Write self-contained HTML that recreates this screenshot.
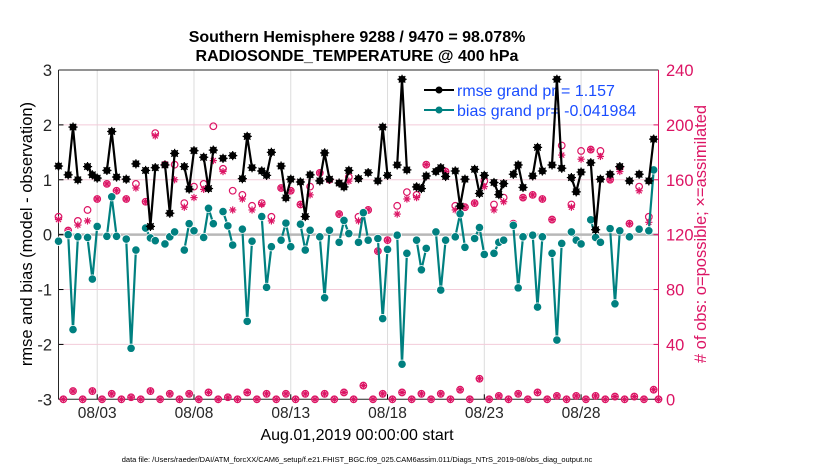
<!DOCTYPE html>
<html><head><meta charset="utf-8"><style>
html,body{margin:0;padding:0;background:#fff;}
svg{display:block;font-family:"Liberation Sans",Arial,sans-serif;}
</style></head><body>
<svg id="chart" width="830" height="470" viewBox="0 0 830 470" xmlns="http://www.w3.org/2000/svg">
<text x="357" y="42" text-anchor="middle" font-size="16" font-weight="bold">Southern Hemisphere 9288 / 9470 = 98.078%</text>
<text x="357" y="61" text-anchor="middle" font-size="16" font-weight="bold">RADIOSONDE_TEMPERATURE @ 400 hPa</text>
<g id="grid"></g>
<g id="axes"></g>
<g id="legend">
<line x1="424" y1="90" x2="454" y2="90" stroke="#000" stroke-width="2"/>
<circle cx="439" cy="90" r="3.5" fill="#000"/>
<text x="457" y="96" font-size="16" fill="#1a4dff">rmse grand pr = 1.157</text>
<line x1="424" y1="110" x2="454" y2="110" stroke="#008080" stroke-width="2"/>
<circle cx="439" cy="110" r="3.5" fill="#008080"/>
<text x="457" y="116" font-size="16" fill="#1a4dff">bias grand pr= -0.041984</text>
</g>
<g id="marks"></g>
<text transform="translate(32,234) rotate(-90)" text-anchor="middle" font-size="16.5">rmse and bias (model - observation)</text>
<text transform="translate(706,234) rotate(-90)" text-anchor="middle" font-size="16.5" fill="#dc1464"># of obs: o=possible; ×=assimilated</text>
<text x="357" y="440" text-anchor="middle" font-size="16">Aug.01,2019 00:00:00 start</text>
<text x="357" y="462" text-anchor="middle" font-size="7.5">data file: /Users/raeder/DAI/ATM_forcXX/CAM6_setup/f.e21.FHIST_BGC.f09_025.CAM6assim.011/Diags_NTrS_2019-08/obs_diag_output.nc</text>
</svg>
<script>
const rmseK=[0,2,3,4,6,7,8,10,11,12,14,16,18,19,20,22,23,24,26,27,28,30,31,32,34,36,38,39,40,42,43,44,46,47,48,50,51,52,54,55,56,58,59,60,62,64,66,67,68,70,71,72,74,75,76,78,79,80,82,83,84,86,87,88,90,91,92,94,95,96,98,99,100,102,103,104,106,107,108,110,111,112,114,116,118,120,122,123];
const rmseV=[1.25,1.09,1.96,1.0,1.24,1.09,1.03,1.17,1.88,1.05,1.01,1.29,1.17,0.15,1.22,1.27,0.39,1.48,1.24,0.83,1.53,1.41,0.84,1.54,1.39,1.44,1.02,1.79,1.22,1.16,1.08,1.50,1.25,0.67,1.01,0.96,0.33,1.09,0.98,1.49,1.01,0.94,0.87,1.17,1.02,1.13,0.98,1.96,1.08,1.27,2.83,1.18,0.87,0.84,1.07,1.15,1.22,1.06,1.16,0.52,1.01,1.19,0.75,1.08,0.95,0.73,0.93,1.10,1.27,0.86,1.07,1.59,1.16,1.27,2.83,1.21,1.04,0.78,1.14,1.31,0.09,1.01,1.10,1.24,0.98,1.10,0.98,1.74];
const biasK=[0,2,3,4,6,7,8,10,11,12,14,15,16,18,19,20,22,23,24,26,27,28,30,31,32,34,35,36,38,39,40,42,43,44,46,47,48,50,51,52,54,55,56,58,59,60,62,63,64,66,67,68,70,71,72,74,75,76,78,79,80,82,83,84,86,87,88,90,91,92,94,95,96,98,99,100,102,103,104,106,107,108,110,111,112,114,115,116,118,120,122,123];
const biasV=[-0.12,0.0,-1.73,-0.04,-0.05,-0.81,0.15,-0.03,0.69,-0.03,-0.08,-2.07,-0.28,0.12,-0.06,-0.11,-0.17,-0.04,0.05,-0.28,0.2,0.07,-0.05,0.48,0.2,0.42,0.16,-0.19,0.1,-1.58,-0.12,0.33,-0.96,-0.22,-0.1,0.21,-0.22,0.19,-0.28,0.08,-0.04,-1.15,0.08,-0.14,0.26,0.02,-0.14,0.40,-0.10,-0.07,-1.53,-0.27,-0.01,-2.36,-0.34,-0.10,-0.64,-0.25,0.05,-1.01,-0.10,-0.04,0.38,-0.23,-0.07,0.13,-0.36,-0.34,-0.14,-0.10,0.17,-0.97,-0.04,-0.01,-1.32,-0.04,-0.34,-1.92,-0.16,0.05,-0.10,-0.17,0.27,-0.05,-0.14,0.11,-1.26,0.07,-0.04,0.10,0.07,1.18];
const obsK=[0,2,4,6,8,10,12,14,16,18,20,22,24,26,28,30,32,34,36,38,40,42,44,46,48,50,52,54,56,58,60,62,64,66,68,70,72,74,76,78,80,82,84,86,88,90,92,94,96,98,100,102,104,106,108,110,112,114,116,118,120,122,
1,3,5,7,9,11,13,15,17,19,21,23,25,27,29,31,33,35,37,39,41,43,45,47,49,51,53,55,57,59,61,63,65,67,69,71,73,75,77,79,81,83,85,87,89,91,93,95,97,99,101,103,105,107,109,111,113,115,117,119,121,123,124];
const possibleV=[133,123,130,138,146,157,152,146,157,144,194,171,171,143,155,157,199,168,152,149,141,143,133,154,152,142,155,165,160,135,162,133,138,108,116,141,151,149,171,122,166,141,140,143,159,142,147,128,147,149,146,131,185,142,181,182,181,160,169,128,155,133,
0,6,0,6,0,4,0,1.5,0,6,0,4,0,4,0,5,0,1.5,0,5,0,4,0,4,0,4,0,4,0,5,0,10,0,4,0,5,0,4,0,4,0,7,0,15,0,2.5,0,4,0,5,0,2.5,0,2.5,0,2.5,0,2,0,2,0,7,0];
const assimV=[131,123,127,130,146,157,152,146,154,144,192,171,160,140,147,153,174,166,138,146,138,142,130,154,152,142,149,165,160,135,159,130,138,108,116,135,146,147,171,122,166,138,140,143,155,138,144,128,147,149,146,131,178,140,175,182,177,160,166,128,152,129,
0,6,0,6,0,4,0,1.5,0,6,0,4,0,4,0,5,0,1.5,0,5,0,4,0,4,0,4,0,4,0,5,0,10,0,4,0,5,0,4,0,4,0,7,0,15,0,2.5,0,4,0,5,0,2.5,0,2.5,0,2.5,0,2,0,2,0,7,0];
const leftTicks=[3,2,1,0,-1,-2,-3];
const rightTicks=[0,40,80,120,160,200,240];
const dateTicks=[2,7,12,17,22,27];
const dateLabels=["08/03","08/08","08/13","08/18","08/23","08/28"];

const X0=58.5,X1=658.5,Y0=70,Y1=399.3;
const xDay=d=>X0+d/31*(X1-X0);
const xK=k=>xDay(k/4);
const yL=v=>Y1-(v+3)/6*(Y1-Y0);
const yR=c=>Y1-c/240*(Y1-Y0);
const NS="http://www.w3.org/2000/svg";
function mk(tag,attrs,parent){const e=document.createElementNS(NS,tag);for(const a in attrs)e.setAttribute(a,attrs[a]);parent.appendChild(e);return e;}
const grid=document.getElementById('grid'),axes=document.getElementById('axes'),marks=document.getElementById('marks');
const RED="#dc1464",TEAL="#008080";

dateTicks.forEach((d,i)=>{
  const x=xDay(d);
  const g=mk('line',{x1:x,y1:Y0,x2:x,y2:Y1,stroke:"#dcdcdc","stroke-width":1},grid);
  
  
  mk('line',{x1:x,y1:Y1,x2:x,y2:Y1-5,stroke:"#000"},axes);
  const t=mk('text',{x:x,y:418,"text-anchor":"middle","font-size":15.5,fill:"#262626"},axes);
  t.textContent=dateLabels[i];
  
  
});
rightTicks.forEach(c=>{
  const y=yR(c);
  if(c>0&&c<240&&c!==120){
    const g=mk('line',{x1:X0,y1:y,x2:X1,y2:y,stroke:"#f3cbd9","stroke-width":1},grid);
    
    
  }
  mk('line',{x1:X1,y1:y,x2:X1-5,y2:y,stroke:RED},axes);
  const t=mk('text',{x:666,y:y+6,"font-size":16.5,fill:RED},axes);
  t.textContent=c;
  
  
});
leftTicks.forEach(v=>{
  const y=yL(v);
  mk('line',{x1:X0,y1:y,x2:X0+5,y2:y,stroke:"#000"},axes);
  const t=mk('text',{x:52,y:y+6,"text-anchor":"end","font-size":16.5,fill:"#262626"},axes);
  t.textContent=v;
  
  
});
mk('line',{x1:X0,y1:yL(0),x2:X1,y2:yL(0),stroke:"#b8b8b8","stroke-width":2.5},grid);
mk('line',{x1:X0,y1:Y0,x2:X1,y2:Y0,stroke:"#262626"},axes);
mk('line',{x1:X0,y1:Y1,x2:X1,y2:Y1,stroke:"#262626"},axes);
mk('line',{x1:X0,y1:Y0,x2:X0,y2:Y1,stroke:"#262626"},axes);
mk('line',{x1:X1,y1:Y0,x2:X1,y2:Y1,stroke:RED},axes);

function star(x,y,r,color,parent){
  const g=mk('g',{stroke:color,"stroke-width":1.2},parent);
  for(let a=0;a<180;a+=45){const rad=a*Math.PI/180;mk('line',{x1:x-r*Math.cos(rad),y1:y-r*Math.sin(rad),x2:x+r*Math.cos(rad),y2:y+r*Math.sin(rad)},g);}
  return g;
}
obsK.forEach((k,i)=>{
  const x=xK(k);
  const c=mk('circle',{cx:x,cy:yR(possibleV[i]),r:3.3,fill:"none",stroke:RED,"stroke-width":1.2},marks);
  
  
  const s=star(x,yR(assimV[i]),3.6,RED,marks);
  
  
});
function series(K,V,color,name,isStar){
  let d="";
  K.forEach((k,i)=>{const cont=i>0&&K[i-1]===k-1;d+=(cont?"L":"M")+xK(k).toFixed(1)+" "+yL(V[i]).toFixed(1)+" ";});
  const p=mk('path',{d:d,fill:"none",stroke:color,"stroke-width":2.2,"stroke-linejoin":"round"},marks);
  
  
  K.forEach((k,i)=>{
    const x=xK(k),y=yL(V[i]);
    const c=mk('circle',{cx:x,cy:y,r:isStar?3.6:4.2,fill:color,stroke:isStar?color:"#fff","stroke-width":isStar?0:0.8},marks);
    
    
    if(isStar)star(x,y,4.6,color,marks);
  });
}
series(biasK,biasV,TEAL,'bias',false);
series(rmseK,rmseV,"#000",'rmse',true);
</script>
</body></html>
